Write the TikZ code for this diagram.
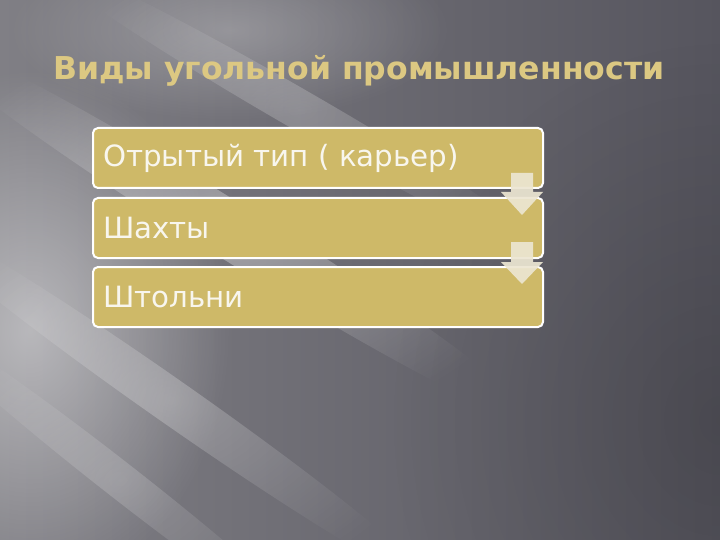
\documentclass[tikz,border=0pt]{standalone}
\usepackage{fontspec}
\setmainfont{DejaVu Sans}
\usetikzlibrary{fadings}
\definecolor{bgdark}{RGB}{86,85,94}
\definecolor{bgleft}{RGB}{128,127,133}
\definecolor{boxfill}{RGB}{206,185,104}
\definecolor{titlegold}{RGB}{220,200,130}
\definecolor{arrowfill}{RGB}{236,230,210}
\definecolor{boxtext}{RGB}{248,246,238}
\tikzfading[name=softglow, inner color=transparent!0, outer color=transparent!100]
\tikzset{
  stepbox/.style={draw=white, line width=2pt, fill=boxfill, rounded corners=5pt},
  boxlabel/.style={anchor=west, text=boxtext, font=\fontsize{29.3}{32}\selectfont, inner sep=0pt},
  downarrow/.style={fill=arrowfill, fill opacity=0.92, draw=none},
  glow/.style={fill=white, path fading=softglow}
}
\begin{document}
\begin{tikzpicture}[x=1pt,y=-1pt]
% background
\shade[left color=bgleft, right color=bgdark, shading angle=90] (0,0) rectangle (720,540);
\useasboundingbox (0,0) rectangle (720,540);
\begin{scope}
\clip (0,0) rectangle (720,540);
\fill[glow, opacity=0.45] (30,330) ellipse (200pt and 260pt);
\fill[glow, opacity=0.25] (230,30) ellipse (220pt and 90pt);
\fill[glow, opacity=0.35, rotate around={-32:(230,230)}] (230,230) ellipse (360pt and 28pt);
\fill[glow, opacity=0.25, rotate around={-35:(170,400)}] (170,400) ellipse (320pt and 22pt);
\fill[glow, opacity=0.22, rotate around={-30:(300,110)}] (300,110) ellipse (300pt and 20pt);
\fill[glow, opacity=0.18, rotate around={-38:(120,480)}] (120,480) ellipse (260pt and 18pt);
\fill[black, path fading=softglow, opacity=0.15] (720,420) ellipse (330pt and 380pt);
\end{scope}
% title
\node (title) [anchor=base west, inner sep=0pt, text=titlegold, font=\bfseries\fontsize{31.5}{34}\selectfont] at (53,80) {Виды угольной промышленности};
% boxes
\draw[stepbox] (93,128) rectangle (543,188);
\draw[stepbox] (93,198) rectangle (543,258);
\draw[stepbox] (93,267) rectangle (543,327);
\node (b1) [boxlabel] at (103,158) {Отрытый тип ( карьер)};
\node (b2) [boxlabel] at (103,228) {Шахты};
\node (b3) [boxlabel] at (103,297) {Штольни};
% arrows
\fill[downarrow] (511,173) -- (533,173) -- (533,192) -- (543,192) -- (522,215) -- (501,192) -- (511,192) -- cycle;
\fill[downarrow] (511,242) -- (533,242) -- (533,262) -- (543,262) -- (522,284) -- (501,262) -- (511,262) -- cycle;
\end{tikzpicture}
\end{document}
